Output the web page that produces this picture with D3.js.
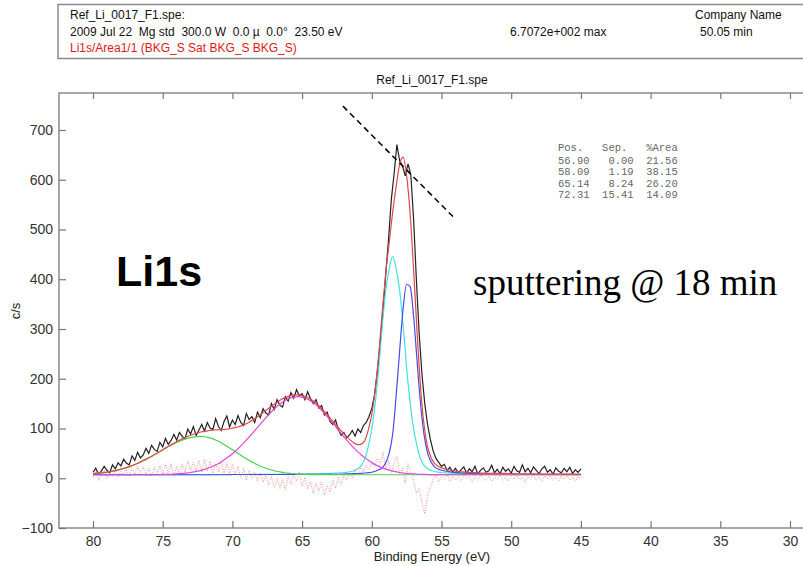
<!DOCTYPE html>
<html><head><meta charset="utf-8">
<script src="https://cdn.jsdelivr.net/npm/d3@7"></script>
<style>
body{margin:0;background:#fff}
svg{display:block}
</style>
</head><body>
<svg id="c" width="803" height="566"></svg>
<script>
// ---------- data ----------
const xTicks = [80, 75, 70, 65, 60, 55, 50, 45, 40, 35, 30];
const yTicks = [-100, 0, 100, 200, 300, 400, 500, 600, 700];

// measured spectrum, 80 eV down to 45 eV every 0.2 eV
const specStart = 80, specStep = 0.2;
const spectrum = [
  12,20,8,15,24,16,11,27,19,31,
  25,38,30,27,45,36,52,41,47,60,
  50,66,58,54,72,63,80,68,76,88,
  77,92,84,80,99,89,104,86,97,108,
  95,112,101,98,120,104,96,114,125,103,
  117,108,126,112,106,130,118,124,112,133,
  122,140,131,127,150,138,158,147,143,164,
  155,172,161,178,166,170,158,174,160,150,
  158,141,146,127,133,114,108,117,98,86,
  92,81,87,96,85,99,92,106,112,124,
  140,168,215,270,335,410,480,560,612,670.7,
  638,628,608,632,610,520,398,290,208,150,
  108,78,55,40,32,24,28,16,22,13,
  20,11,17,23,10,19,13,24,9,16,
  21,12,15,26,11,18,9,22,14,19,
  10,24,15,12,27,13,20,11,23,16,
  9,19,24,12,17,8,21,14,11,20,
  13,22,10,17,12,19
];
// fit residual, same energy grid
const residual = [
  2,14,-4,8,16,0,12,4,16,2,14,
  6,18,4,20,8,24,10,22,6,20,
  4,22,6,26,8,28,10,30,4,24,
  8,30,12,34,16,32,14,36,12,38,
  14,34,10,30,12,36,8,32,10,28,
  6,24,2,20,-4,16,0,12,-6,10,
  -8,6,-14,4,-18,0,-20,-2,-24,4,
  -12,8,-6,12,-16,2,-22,-6,-30,-10,
  -26,-8,-34,-14,-28,-4,-20,2,-12,6,
  -4,12,0,16,8,22,12,26,18,30,
  24,40,28,52,20,36,10,30,44,8,
  20,-10,30,12,-6,-30,-20,-50,-72,-35,
  -18,-4,6,-8,4,-2,8,-6,4,-4,
  2,-6,6,-2,4,-8,2,-4,6,-2,
  -4,4,-6,2,-2,6,-4,2,-6,4,
  -2,6,-4,2,-8,4,-2,6,-4,2,
  -6,4,-2,6,-4,2,-6,4,-2,6,
  -4,2,-6,4,-2
];

// fitted components above background, 80 eV down to 45 eV every 0.25 eV
const fitStart = 80, fitStep = 0.25;
const background = 7;
const compGreen = [
  2.3,2.8,3.5,4.4, 5.3,6.5,7.8,9.4, 11.2,13.2,15.4,17.9, 20.7,23.7,27,30.4,
  34.1,37.9,41.9,45.9, 49.9,53.9,57.7,61.4, 64.8,67.9,70.7,73, 74.8,76.1,76.8,77,
  76.4,75.2,73.2,70.5, 67.3,63.5,59.4,55, 50.4,45.7,41.1,36.6, 32.2,28.1,24.3,20.7,
  17.5,14.7,12.2,10, 8.1,6.5,5.2,4.1, 3.2,2.5,1.9,1.4, 1.1,0.8,0.6,0.4,
  0.3,0.2,0.2,0.1, 0.1,
  0,0,0,0,0,0,0,0,0,0,0,0,0,0,0,0,0,0,0,0,0,0,0,0,
  0,0,0,0,0,0,0,0,0,0,0,0,0,0,0,0,0,0,0,0,0,0,0,0,
  0,0,0,0,0,0,0,0,0,0,0,0,0,0,0,0,0,0,0,0,0,0,0,0
];
const compPink = [
  0,0,0,0,0,0,0,0,0,0,0,0,0,0,0,0,0,0,0,0,
  0.6,0.8,1.0,1.3, 1.7,2.2,2.9,3.7, 4.6,5.8,7.2,8.9, 10.9,13.2,16,19.1,
  22.7,26.9,31.5,36.6, 42.2,48.4,55,62, 69.5,77.4,85.4,93.6, 101.8,109.9,117.7,125.2,
  132.2,138.5,144.2,148.9, 152.5,155.1,156.7,157, 156.1,153.9,150.5,146, 140.4,133.9,126.6,118.8,
  110.5,102.2,93.5,84.9, 76.4,68,60.2,52.9, 46,39.7,34,29, 24.4,20.4,16.9,13.9,
  11.3,9.2,7.4,5.9, 4.6,3.6,2.8,2.1, 1.6,1.2,0.9,0.7, 0.5,0.4,0.3,0.2, 0.1,
  0,0,0,0,0,0,0,0,0,0,0,0,0,0,0,0,0,0,0,0,
  0,0,0,0,0,0,0,0,0,0,0,0,0,0,0,0,0,0,0,0
];
const compCyan = [
  0,0,0,0,0,0,0,0,0,0,0,0,0,0,0,0,0,0,0,0,0,0,0,0,0,0,0,0,0,0,0,0,0,0,
  0.5,0.5,0.5,0.5,0.5,0.5,0.5,0.5,0.5,0.5,0.5,0.5,
  1,1,1,1,1,1,1,1,
  1.5,1.5,1.5,1.5,1.5,1.5,1.5,1.5,
  1.6,1.8,1.9,2.1, 2.3,2.5,2.8,3.1, 3.5,4,4.6,5.4, 6.5,8.5,12,19,
  32,57,92,145, 215,300,370,414, 439,
  414,370,300,215, 145,92,57,32, 19,12,8.5,6.5, 5.4,4.6,4,3.5,
  3.1,2.8,2.5,2.3, 2.1,1.9,1.8,1.6,
  1.5,1.5,1.5,1.5,1.5,1.5,1.5,1.5,
  1,1,1,1,1,1,1,1,
  0.5,0.5,0.5,0.5,0.5,0.5,0.5,0.5,0.5,0.5,0.5,0.5,
  0,0
];
const compBlue = [
  0,0,0,0,0,0,0,0,0,0,0,0,0,0,0,0,0,0,0,0,0,0,0,0,0,0,0,0,0,0,0,0,0,0,0,0,0,0,0,0,
  0.5,0.5,0.5,0.5,0.5,0.5,0.5,0.5,0.5,0.5,0.5,0.5,0.5,0.5,0.5,0.5,0.5,0.5,0.5,0.5,
  1,1,1,1,1,1,1,1,1,1,1,1,
  1.5,1.7,2,2.2, 2.5,2.9,3.5,4.2, 5,7,10,14, 24,44,82,160,
  250,335,383,378, 318,228,142,80, 44,26,16,11.6, 9.1,7.6,6.4,5.5,
  4.7,4.1,3.6,3.2, 2.9,2.6,2.3,2.1, 1.9,
  1.5,1.5,1.5,1.5,1.5,1.5,1.5,1.5,
  1,1,1,1,1,1,1,1,1,1,1,1,
  0.8,0.8,0.8,0.8,0.8,0.8,0.8,0.8
];

// peak table
const tablePos  = ["56.90", "58.09", "65.14", "72.31"];
const tableSep  = ["0.00", "1.19", "8.24", "15.41"];
const tableArea = ["21.56", "38.15", "26.20", "14.09"];

// annotation guide (energy, counts)
const guideEnergy = [62.07, 54.18];
const guideCounts = [748, 526];

// ---------- drawing ----------
const SANS = "'Liberation Sans', Arial, sans-serif";
const nb = s => s.replace(/ /g, "\u00a0");
const svg = d3.select("#c");
const frame = {left: 59, top: 93, right: 830, bottom: 528};
const x = d3.scaleLinear().domain([80, 30]).range([93, 790]);
const y = d3.scaleLinear().domain([-100, 700]).range([528, 130]);

function txt(parent, xx, yy, s, size, fill, family) {
  return parent.append("text").attr("x", xx).attr("y", yy)
    .style("font-family", family || SANS).style("font-size", size + "px")
    .attr("fill", fill).text(nb(s));
}

// header box
svg.append("rect").attr("x", 58).attr("y", 4.5).attr("width", 800).attr("height", 54)
  .attr("fill", "none").attr("stroke", "#8a8a8a").attr("stroke-width", 1.5);
txt(svg, 70, 19, "Ref_Li_0017_F1.spe:", 12, "#111");
txt(svg, 70, 36, "2009 Jul 22  Mg std  300.0 W  0.0 \u00b5  0.0\u00b0  23.50 eV", 12, "#111");
txt(svg, 70, 52, "Li1s/Area1/1 (BKG_S Sat BKG_S BKG_S)", 12, "#e01818");
txt(svg, 510, 36, "6.7072e+002 max", 12, "#111");
txt(svg, 695, 19, "Company Name", 12, "#111");
txt(svg, 700, 36, "50.05 min", 12, "#111");
txt(svg, 432, 84, "Ref_Li_0017_F1.spe", 12, "#111").attr("text-anchor", "middle");

// clip
svg.append("clipPath").attr("id", "clip").append("rect")
  .attr("x", frame.left).attr("y", frame.top)
  .attr("width", frame.right - frame.left).attr("height", frame.bottom - frame.top);
const plot = svg.append("g").attr("clip-path", "url(#clip)");

const specE = i => specStart - i * specStep;
const fitE = i => fitStart - i * fitStep;

// residual (dotted)
plot.append("path").datum(residual)
  .attr("d", d3.line().x((d, i) => x(specE(i))).y(d => y(d)))
  .attr("fill", "none").attr("stroke", "#f07878").attr("stroke-width", 1)
  .attr("stroke-dasharray", "1,1.5").attr("opacity", 0.85);

// spectrum
plot.append("path").datum(spectrum)
  .attr("d", d3.line().x((d, i) => x(specE(i))).y(d => y(d)))
  .attr("fill", "none").attr("stroke", "#222").attr("stroke-width", 1.2);

// components
const fitLine = d3.line().curve(d3.curveMonotoneX).x((d, i) => x(fitE(i))).y(d => y(d + background));
const comps = [
  {v: compCyan, c: "#3fe0e6"},
  {v: compBlue, c: "#4a4ae6"},
  {v: compGreen, c: "#4bd24b"},
  {v: compPink, c: "#e246d6"}
];
comps.forEach(s => {
  plot.append("path").datum(s.v).attr("d", fitLine)
    .attr("fill", "none").attr("stroke", s.c).attr("stroke-width", 1.2);
});
// envelope (sum of components)
const envelope = compGreen.map((g, i) => g + compPink[i] + compCyan[i] + compBlue[i]);
plot.append("path").datum(envelope).attr("d", fitLine)
  .attr("fill", "none").attr("stroke", "#e04848").attr("stroke-width", 1.2);

// frame
svg.append("rect").attr("x", frame.left).attr("y", frame.top)
  .attr("width", frame.right - frame.left).attr("height", frame.bottom - frame.top)
  .attr("fill", "none").attr("stroke", "#8a8a8a").attr("stroke-width", 1.5);

// axes
const styleAxis = g => {
  g.select(".domain").remove();
  g.selectAll(".tick line").attr("stroke", "#777").attr("stroke-width", 1.2);
  g.selectAll(".tick text").attr("fill", "#333").style("font-size", "14px")
    .style("font-family", SANS);
};
svg.append("g").attr("transform", `translate(0,${frame.bottom})`)
  .call(d3.axisBottom(x).tickValues(xTicks).tickSize(-7).tickPadding(8)).call(styleAxis);
svg.append("g").attr("transform", `translate(0,${frame.top})`)
  .call(d3.axisTop(x).tickValues(xTicks).tickSize(-6).tickFormat("")).call(styleAxis);
svg.append("g").attr("transform", `translate(${frame.left},0)`)
  .call(d3.axisLeft(y).tickValues(yTicks).tickSize(-7).tickPadding(6)).call(styleAxis);

txt(svg, 432, 561, "Binding Energy (eV)", 13, "#222").attr("text-anchor", "middle");
txt(svg, 0, 0, "c/s", 13, "#222").attr("text-anchor", "middle")
  .attr("transform", "translate(20,311) rotate(-90)");

// peak table
const MONO = "'Liberation Mono', 'DejaVu Sans Mono', monospace";
const rowY = [151, 164, 175, 187, 198];
txt(svg, 558, rowY[0], "Pos.   Sep.   %Area", 10.5, "#666", MONO);
tablePos.forEach((p, i) => {
  txt(svg, 558, rowY[i + 1], p + "  " + tableSep[i].padStart(5) + "  " + tableArea[i].padStart(5), 10.5, "#666", MONO);
});

// guide line
svg.append("line")
  .attr("x1", x(guideEnergy[0])).attr("y1", y(guideCounts[0]))
  .attr("x2", x(guideEnergy[1])).attr("y2", y(guideCounts[1]))
  .attr("stroke", "#000").attr("stroke-width", 1.5).attr("stroke-dasharray", "6,4");

// annotations
txt(svg, 116, 286, "Li1s", 43, "#000").style("font-weight", "bold");
txt(svg, 473, 295, "sputtering @ 18 min", 37, "#000", "'Liberation Serif', 'Times New Roman', serif");
</script>
</body></html>
